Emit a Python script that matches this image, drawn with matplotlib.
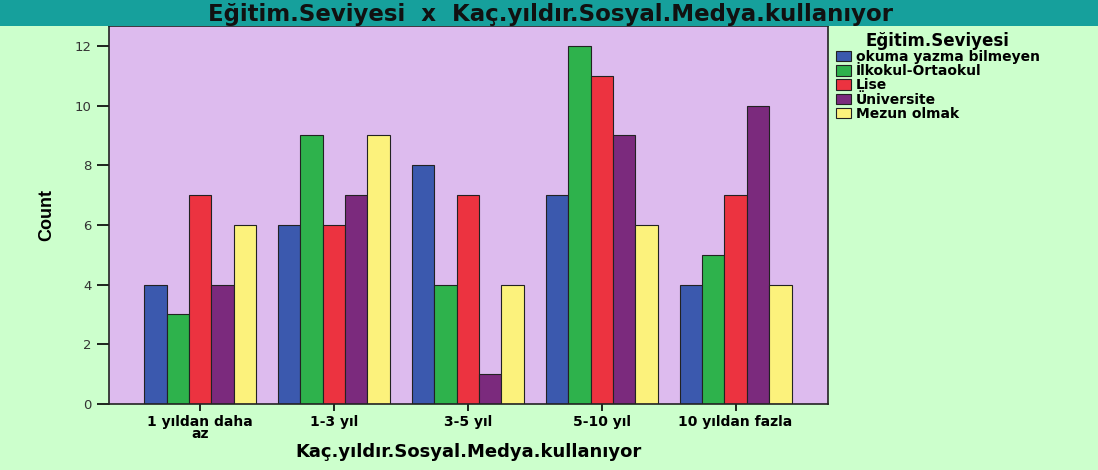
import numpy as np
import matplotlib
matplotlib.use("Agg")
import matplotlib.pyplot as plt
from matplotlib.patches import Rectangle

plt.rcParams['font.family'] = ['DejaVu Sans']

categories = ['1 yıldan daha\naz', '1-3 yıl', '3-5 yıl', '5-10 yıl', '10 yıldan fazla']
series_names = ['okuma yazma bilmeyen', 'İlkokul-Ortaokul', 'Lise', 'Üniversite', 'Mezun olmak']
okuma = [4, 6, 8, 7, 4]
ilkokul = [3, 9, 4, 12, 5]
lise = [7, 6, 7, 11, 7]
universite = [4, 7, 1, 9, 10]
mezun = [6, 9, 4, 6, 4]
colors = ['#3B59AE', '#2EB24C', '#EC3340', '#7B2A7D', '#FCF27C']

W, H = 1098, 470
fig = plt.figure(figsize=(W / 100, H / 100), dpi=100, facecolor='#CCFFCC')
# teal title bar
fig.patches.append(Rectangle((0, 1 - 26 / H), 1, 26 / H, transform=fig.transFigure,
                             facecolor='#16A09C', edgecolor='none', zorder=0))
fig.text(551 / W, 1 - 14 / H, 'Eğitim.Seviyesi  x  Kaç.yıldır.Sosyal.Medya.kullanıyor',
         ha='center', va='center', fontsize=16.5, fontweight='bold', color='#111111')

ax = fig.add_axes([109 / W, 1 - 404 / H, (828 - 109) / W, (404 - 26) / H])
ax.set_facecolor('#DDBBEE')

x = np.arange(len(categories))
w = 0.167
all_series = [okuma, ilkokul, lise, universite, mezun]
for i, (vals, name) in enumerate(zip(all_series, series_names)):
    ax.bar(x + (i - 2) * w, vals, width=w, color=colors[i], edgecolor='#222222',
           linewidth=0.8, label=name, zorder=2)

ax.set_xlim(-0.68, 4.69)
ax.set_ylim(0, 12.67)
ax.set_yticks(range(0, 13, 2))
ax.set_xticks(x)
ax.set_xticklabels(categories, fontsize=10, fontweight='bold', linespacing=0.85)
ax.tick_params(axis='y', labelsize=9.5, labelcolor='#333333', length=9, width=1.2)
ax.tick_params(axis='x', length=5, width=1.2, pad=3)
for s in ax.spines.values():
    s.set_color('#222222')
    s.set_linewidth(1.2)

ax.set_xlabel('Kaç.yıldır.Sosyal.Medya.kullanıyor', fontsize=13, fontweight='bold', labelpad=1)
ax.set_ylabel('Count', fontsize=13, fontweight='bold', labelpad=14,
              family=['Liberation Sans Narrow', 'Liberation Sans'])

leg = fig.legend(loc='upper left', bbox_to_anchor=(830 / W, 1 - 26 / H),
                 frameon=False, title='Eğitim.Seviyesi', fontsize=10,
                 handlelength=1.1, handleheight=0.8, handletextpad=0.35,
                 labelspacing=0.02, borderaxespad=0)
leg.get_title().set_fontweight('bold')
leg.get_title().set_fontsize(12)
for t in leg.get_texts():
    t.set_fontweight('bold')

plt.savefig('out.png', dpi=100, facecolor=fig.get_facecolor())
